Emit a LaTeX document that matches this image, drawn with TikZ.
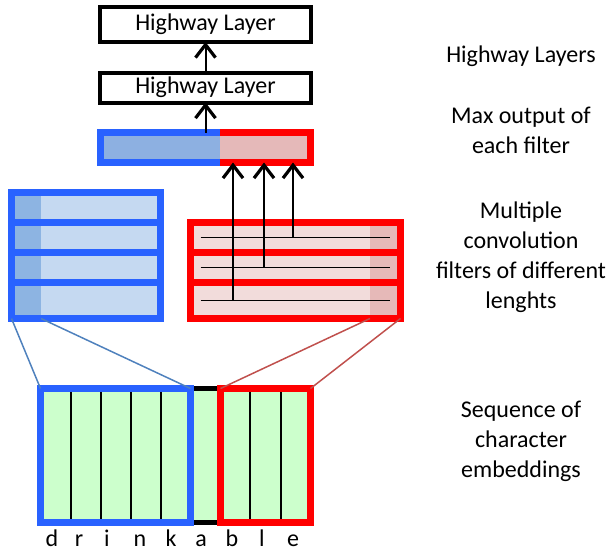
\documentclass[tikz,border=0pt]{standalone}
\usepackage{fontspec}
\setmainfont{Carlito}
\usetikzlibrary{arrows.meta}
\definecolor{winblue}{RGB}{41,98,255}
\definecolor{winred}{RGB}{255,0,0}
\definecolor{maxblue}{RGB}{141,176,225}
\definecolor{maxred}{RGB}{229,185,185}
\definecolor{filtblue}{RGB}{197,217,241}
\definecolor{filtbluedk}{RGB}{141,180,226}
\definecolor{filtred}{RGB}{242,220,219}
\definecolor{filtreddk}{RGB}{230,185,184}
\definecolor{embgreen}{RGB}{204,255,204}
\definecolor{linkblue}{RGB}{79,129,189}
\definecolor{linkred}{RGB}{192,80,77}
\tikzset{hwlayer/.style={draw,line width=4pt,inner sep=0pt,outer sep=0pt,minimum width=211pt,font=\fontsize{24}{28}\selectfont},
         cell/.style={inner sep=0pt,outer sep=0pt},
         upar/.style={line width=2pt,-{Straight Barb[length=13pt,width=20pt,line width=3.2pt]}},
         bluefr/.style={draw=winblue,line width=7pt},
         redfr/.style={draw=winred,line width=7pt},
         caption/.style={font=\fontsize{24}{30}\selectfont,align=center,anchor=base}}

\begin{document}
\begin{tikzpicture}[x=1pt,y=-1pt]
\useasboundingbox (0,0) rectangle (608,552);
% highway layers
\node[hwlayer,minimum height=35pt] (hw2) at (205.5,24.5) {Highway Layer};
\node[hwlayer,minimum height=30pt] (hw1) at (205.5,87.5) {Highway Layer};
% max output of each filter
\node[cell,fill=maxblue,minimum width=119.5pt,minimum height=30pt] (maxb) at (160.25,147.5) {};
\node[cell,fill=maxred,minimum width=90.5pt,minimum height=30pt] (maxr) at (265.25,147.5) {};
\draw[bluefr] (maxb.north east) -- (maxb.north west) -- (maxb.south west) -- (maxb.south east);
\draw[redfr] (maxr.north west) -- (maxr.north east) -- (maxr.south east) -- (maxr.south west);
\draw[upar] (hw1.north) -- (hw2.south);
\draw[upar] (hw1.south |- maxb.north) -- (hw1.south);
% filters
\foreach \i/\y/\h in {1/207.5/30, 2/237.5/30, 3/267.5/30, 4/300.5/36}
  \node[cell,fill=filtblue,minimum width=149pt,minimum height=\h pt] (b\i) at (86,\y) {};
\foreach \i/\y/\h in {1/237.5/30, 2/267.5/30, 3/300.5/36}
  \node[cell,fill=filtred,minimum width=210pt,minimum height=\h pt] (r\i) at (295.5,\y) {};
\foreach \i in {1,...,4}
  \fill[filtbluedk] (b\i.north west) rectangle ([xshift=29.5pt]b\i.south west);
\foreach \i in {1,2,3}
  \fill[filtreddk] ([xshift=-30.5pt]r\i.north east) rectangle (r\i.south east);
\foreach \i in {1,...,4}
  \draw[bluefr] (b\i.north west) rectangle (b\i.south east);
\foreach \i in {1,2,3}
  \draw[redfr] (r\i.north west) rectangle (r\i.south east);
\foreach \i in {1,2,3}
  \draw[line width=1.5pt] ([xshift=10pt]r\i.west) -- ([xshift=-11pt]r\i.east);
\coordinate (c1) at (293,0);
\coordinate (c2) at (264,0);
\coordinate (c3) at (233,0);
\foreach \i in {1,2,3}
  \draw[upar] (r\i -| c\i) -- (c\i |- maxr.south);
% character embeddings
\node[cell,draw,line width=5pt,fill=embgreen,minimum width=270pt,minimum height=134pt] (emb) at (175.5,455.5) {};
\foreach \d in {30.5,60.5,90.5,120.5,209.5,240.5}
  \draw[line width=1.5pt] ([xshift=\d pt]emb.north west) -- ([xshift=\d pt]emb.south west);
\node[cell,bluefr,minimum width=150pt,minimum height=134pt] (winb) at (115.5,455.5) {};
\node[cell,redfr,minimum width=90pt,minimum height=134pt] (winr) at (265.5,455.5) {};
\draw[linkblue,line width=1.5pt] (b4.south west) -- (winb.north west);
\draw[linkblue,line width=1.5pt] ([xshift=29.5pt]b4.south west) -- (winb.north east);
\draw[linkred,line width=1.5pt] ([xshift=-30.5pt]r3.south east) -- (winr.north west);
\draw[linkred,line width=1.5pt] (r3.south east) -- (winr.north east);
\foreach \c/\x [count=\i] in {d/52,r/79,i/107,n/140,k/171,a/201,b/232,l/262,e/293}
  \node[font=\fontsize{24}{28}\selectfont,anchor=base,inner sep=0pt] (ch\i) at (\x,546) {\c};
% captions
\node[caption] (capHw) at (521,62) {Highway Layers};
\node[caption] (capMax) at (521,153) {Max output of\\each filter};
\node[caption] (capConv) at (521,308) {Multiple\\convolution\\filters of different\\lenghts};
\node[caption] (capEmb) at (521,477) {Sequence of\\character\\embeddings};
\end{tikzpicture}
\end{document}
